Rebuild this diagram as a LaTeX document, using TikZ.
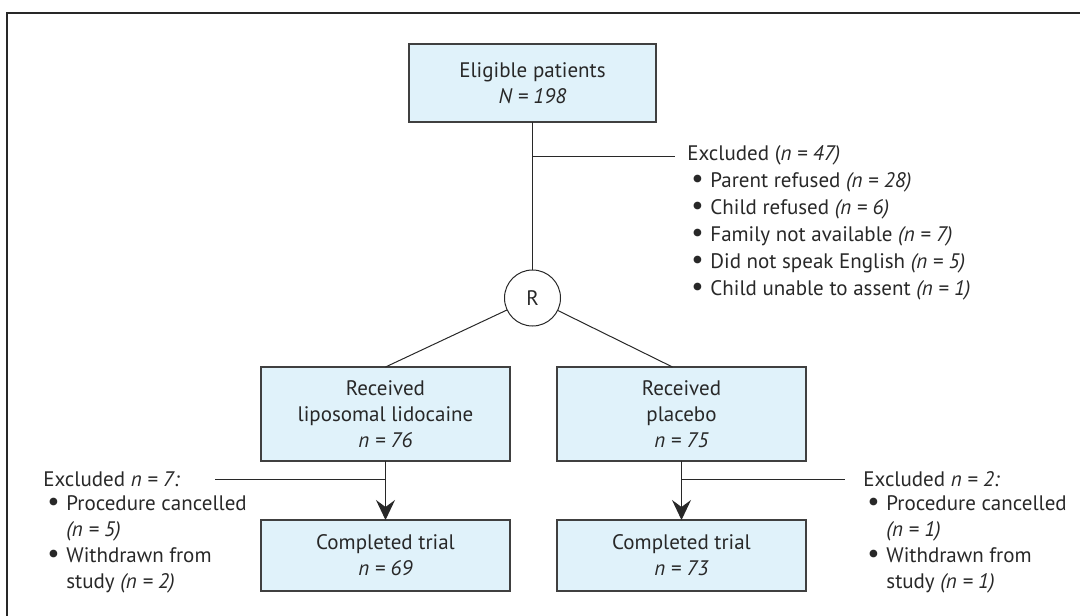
\documentclass[tikz,border=0pt]{standalone}
\usepackage{fontspec}
\setmainfont{PT Sans}
\usepackage{xcolor}
\usepackage{tikz}
\usetikzlibrary{
	arrows.meta,
	positioning
}
\definecolor{boxfill}{RGB}{224,242,250}
\definecolor{boxline}{RGB}{64,64,64}
\definecolor{wire}{RGB}{40,40,40}
\newcommand{\pitem}{\hspace*{2pt}\makebox[9.5pt][l]{\scalebox{1.3}{\textbullet}}}
\newcommand{\pcont}{\hspace*{11.5pt}}
\tikzset{
	every node/.style={
		font=\fontsize{10.5}{13}\selectfont,
		text=wire
	},
	box/.style={
		draw=boxline,
		fill=boxfill,
		line width=0.75pt,
		align=center,
		inner sep=0pt,
		outer sep=0pt,
		minimum width=124.5pt
	},
	arm/.style={box,minimum height=47pt},
	done/.style={box,minimum height=35.5pt},
	randnode/.style={
		circle,
		draw=wire,
		line width=0.5pt,
		minimum size=28pt,
		inner sep=0pt,
		outer sep=0pt
	},
	exhead/.style={inner sep=0pt,anchor=west},
	exlist/.style={inner sep=0pt,anchor=north west,align=left},
	every edge/.append style={
		draw=wire,
		line width=0.5pt
	},
	flow/.style={
		-{Stealth[length=10pt,width=9.5pt,inset=3.5pt]}
	}
}

\begin{document}
\begin{tikzpicture}[x=0.5pt,y=-0.5pt]
	\clip (0,0) rectangle (1080,615);
	% frame
	\draw[draw=wire,line width=1pt] (7,700) |- (1200,13);

	\draw
		node [box,minimum width=123.5pt,minimum height=39pt] (elig) at (532.5,83) {Eligible patients\\\textit{N = 198}}
		node [randnode,below=74pt of elig] (rand) {R}
		node [arm] (lido) at (385.5,414) {Received\\liposomal lidocaine\\\textit{n = 76}}
		node [arm,right=23.5pt of lido] (plac) {Received\\placebo\\\textit{n = 75}}
		node [done,below=29.5pt of lido] (doneA) {Completed trial\\\textit{n = 69}}
		node [done,below=29.5pt of plac] (doneB) {Completed trial\\\textit{n = 73}}

		node [exhead] (exTop) at (687,155) {Excluded (\textit{n = 47)}}
		node [exlist,font=\fontsize{10.5}{13.5}\selectfont] (exTopList) at ([yshift=-3.3pt]exTop.south west)
			{\pitem Parent refused \textit{(n = 28)}\\
			 \pitem Child refused \textit{(n = 6)}\\
			 \pitem Family not available \textit{(n = 7)}\\
			 \pitem Did not speak English \textit{(n = 5)}\\
			 \pitem Child unable to assent \textit{(n = 1)}}
		node [exhead] (exA) at (43,479) {Excluded \textit{n = 7:}}
		node [exlist] (exAList) at ([yshift=-4.2pt]exA.south west)
			{\pitem Procedure cancelled\\
			 \pcont\textit{(n = 5)}\\
			 \pitem Withdrawn from\\
			 \pcont study \textit{(n = 2)}}
		node [exhead] (exB) at (863,479) {Excluded \textit{n = 2:}}
		node [exlist] (exBList) at ([yshift=-4.2pt]exB.south west)
			{\pitem Procedure cancelled\\
			 \pcont\textit{(n = 1)}\\
			 \pitem Withdrawn from\\
			 \pcont study \textit{(n = 1)}}
	;

	\coordinate (cutTop) at (elig.south |- 0,156);
	\coordinate (cutA) at (lido.south |- 0,479);
	\coordinate (cutB) at (plac.south |- 0,479);

	\draw
		(elig) edge (rand)
		(rand) edge (lido.north)
		(rand) edge ([xshift=-4.5pt]plac.north)
		(lido) edge [flow] (doneA)
		(plac) edge [flow] (doneB)
		(cutTop) edge [shorten >=6pt] (cutTop -| exTop.west)
		(cutA) edge [shorten >=17.5pt] (cutA -| exA.east)
		(cutB) edge [shorten >=9pt] (cutB -| exB.west)
	;
\end{tikzpicture}
\end{document}
